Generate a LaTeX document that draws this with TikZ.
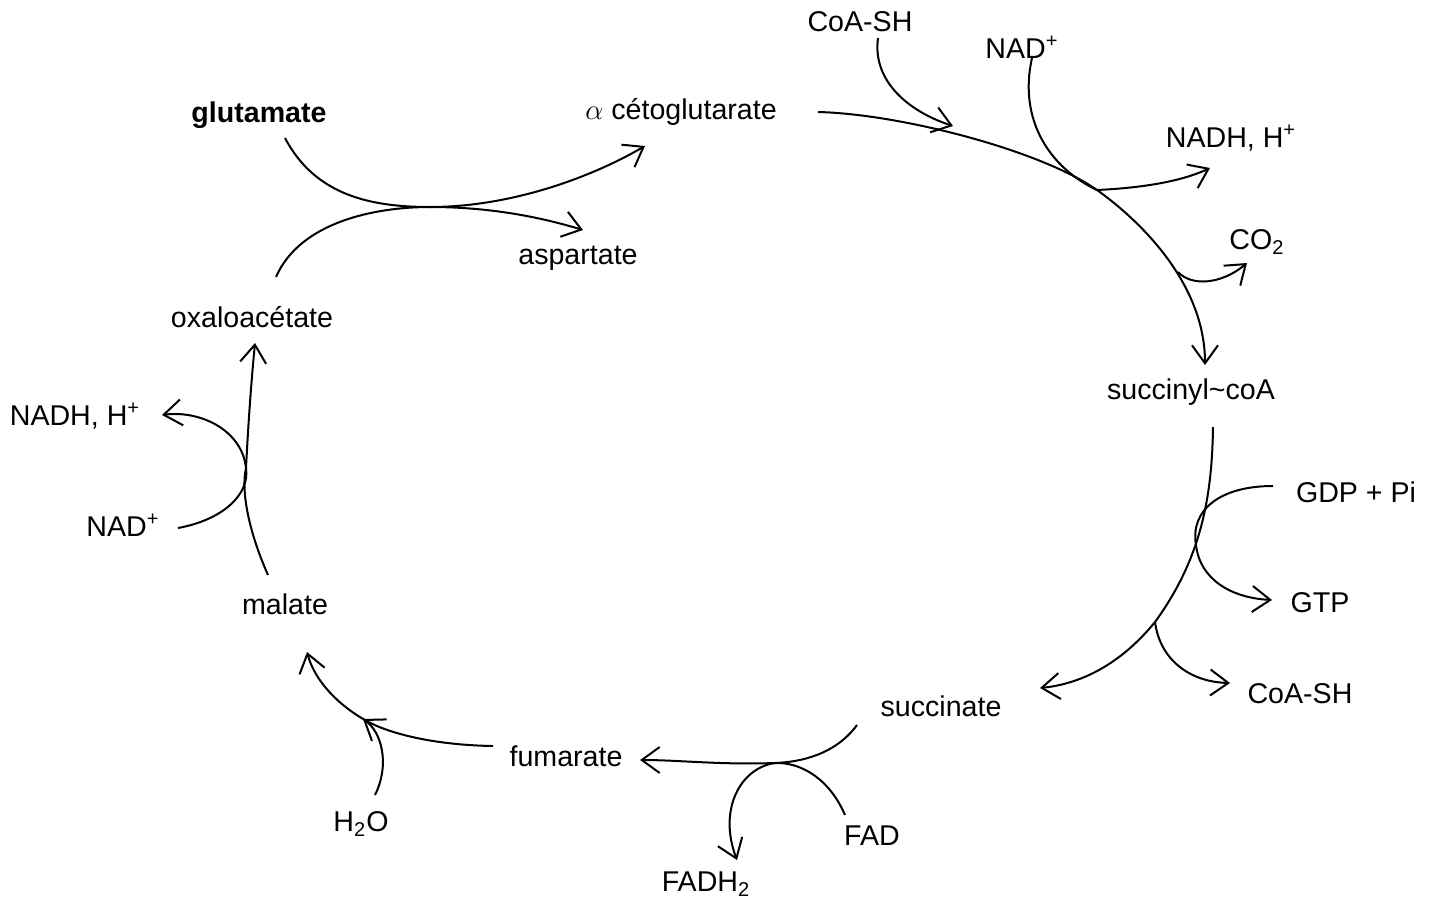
\documentclass[tikz,border=0pt]{standalone}
\usepackage{fontspec}
\setmainfont{Liberation Sans}
\usetikzlibrary{arrows.meta}
\tikzset{
  lbl/.style={inner sep=0pt, font=\fontsize{14.3}{16}\selectfont},
  rx/.style={line width=1pt, -{Straight Barb[length=9pt,width=13pt,line width=1pt]}},
  ln/.style={line width=1pt}
}
\begin{document}
\begin{tikzpicture}[x=0.5pt,y=-0.5pt]
\useasboundingbox (0,0) rectangle (1440,905);
% labels
\node[lbl,font=\fontsize{14.3}{16}\selectfont\bfseries] (glu) at (259,115) {glutamate};
\node[lbl] (akg) at (681,112) {$\alpha$ cétoglutarate};
\node[lbl] (asp) at (578,258) {aspartate};
\node[lbl] (oaa) at (252,317) {oxaloacétate};
\node[lbl] (nadh1) at (75,416) {NADH, H\textsuperscript{+}};
\node[lbl] (nad1) at (123,525) {NAD\textsuperscript{+}};
\node[lbl] (mal) at (285,604) {malate};
\node[lbl] (h2o) at (361,824) {H\textsubscript{2}O};
\node[lbl] (fum) at (566,756) {fumarate};
\node[lbl] (fadh) at (706,884) {FADH\textsubscript{2}};
\node[lbl] (fad) at (872,836) {FAD};
\node[lbl] (suc) at (941,706) {succinate};
\node[lbl] (coa2) at (1300,694) {CoA-SH};
\node[lbl] (gtp) at (1320,603) {GTP};
\node[lbl] (gdp) at (1356,492) {GDP + Pi};
\node[lbl] (scoa) at (1191,392) {succinyl\char`~coA};
\node[lbl] (co2) at (1257,242) {CO\textsubscript{2}};
\node[lbl] (nadh2) at (1231,138) {NADH, H\textsuperscript{+}};
\node[lbl] (nad2) at (1022,47) {NAD\textsuperscript{+}};
\node[lbl] (coa1) at (860,22) {CoA-SH};
% anchor coordinates
\coordinate (gluO) at (285,138);
\coordinate (akgI) at (645,146);
\coordinate (oaaO) at (276,277);
\coordinate (aspI) at (583,230);
\coordinate (X1) at (430,207);
\coordinate (akgO) at (818,112);
\coordinate (coa1O) at (878,38);
\coordinate (J1) at (953,126);
\coordinate (nad2O) at (1032,58);
\coordinate (J2) at (1097,190);
\coordinate (nadh2I) at (1210,168);
\coordinate (J3) at (1178,272);
\coordinate (co2I) at (1247,263);
\coordinate (scoaI) at (1205,365);
\coordinate (scoaO) at (1213,427);
\coordinate (gdpO) at (1273,486);
\coordinate (J4) at (1196,545);
\coordinate (gtpI) at (1272,600);
\coordinate (J5) at (1155,622);
\coordinate (coa2I) at (1230,683);
\coordinate (sucI) at (1040,688);
\coordinate (sucO) at (857,725);
\coordinate (J6) at (775,763);
\coordinate (fumI) at (640,760);
\coordinate (fadO) at (845,815);
\coordinate (fadhI) at (737,860);
\coordinate (fumO) at (493,746);
\coordinate (J7) at (365,720);
\coordinate (malI) at (307,652);
\coordinate (h2oO) at (375,795);
\coordinate (h2oI) at (363,719);
\coordinate (malO) at (268,575);
\coordinate (J8) at (246,468);
\coordinate (oaaI) at (255,343);
\coordinate (nad1O) at (178,528);
\coordinate (nadh1I) at (162,415);
% glutamate / oxaloacetate transamination
\draw[rx] (gluO) .. controls (315,195) and (370,207) .. (X1) .. controls (510,207) and (590,178) .. (akgI);
\draw[rx] (oaaO) .. controls (300,222) and (375,207) .. (X1) .. controls (490,207) and (540,217) .. (aspI);
% alpha-KG -> succinyl-CoA
\draw[rx] (akgO) .. controls (900,114) and (1040,150) .. (J2) .. controls (1150,228) and (1205,290) .. (scoaI);
\draw[rx] (coa1O) .. controls (872,82) and (910,112) .. (J1);
\draw[ln] (nad2O) .. controls (1018,120) and (1050,168) .. (J2);
\draw[rx] (J2) .. controls (1140,188) and (1180,182) .. (nadh2I);
\draw[rx] (J3) .. controls (1192,287) and (1222,284) .. (co2I);
% succinyl-CoA -> succinate
\draw[rx] (scoaO) .. controls (1212,500) and (1200,560) .. (J5) .. controls (1120,665) and (1080,684) .. (sucI);
\draw[rx] (gdpO) .. controls (1220,486) and (1190,510) .. (J4) .. controls (1200,580) and (1232,598) .. (gtpI);
\draw[rx] (J5) .. controls (1160,660) and (1190,682) .. (coa2I);
% succinate -> fumarate
\draw[rx] (sucO) .. controls (835,755) and (800,762) .. (J6) .. controls (720,765) and (680,760) .. (fumI);
\draw[ln] (fadO) .. controls (830,780) and (802,762) .. (J6);
\draw[rx] (J6) .. controls (740,768) and (718,810) .. (fadhI);
% fumarate -> malate
\draw[rx] (fumO) .. controls (430,745) and (385,732) .. (J7) .. controls (340,706) and (315,682) .. (malI);
\draw[rx] (h2oO) .. controls (390,765) and (382,732) .. (h2oI);
% malate -> oxaloacetate
\draw[rx] (malO) .. controls (248,530) and (241,490) .. (J8) .. controls (249,410) and (252,375) .. (oaaI);
\draw[rx] (nad1O) .. controls (222,520) and (250,495) .. (J8) .. controls (242,430) and (200,410) .. (nadh1I);
\end{tikzpicture}
\end{document}
